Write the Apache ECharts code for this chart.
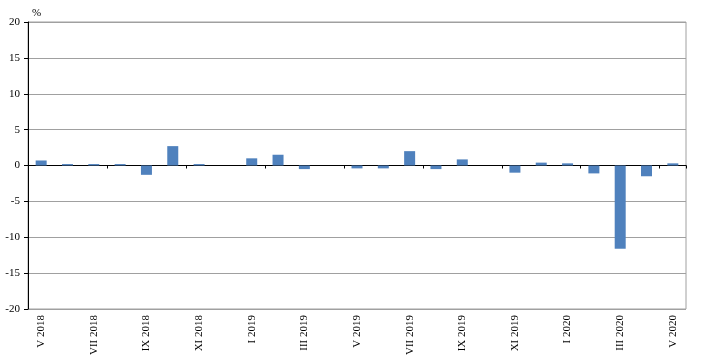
<!DOCTYPE html>
<html>
<head>
<meta charset="utf-8">
<script src="https://cdn.jsdelivr.net/npm/echarts@6/dist/echarts.min.js"></script>
<style>html,body{margin:0;padding:0;background:#fff}#c{width:709px;height:359px}</style>
</head>
<body>
<div id="c"></div>
<script>
const categories = ["V 2018","VI 2018","VII 2018","VIII 2018","IX 2018","X 2018","XI 2018","XII 2018",
  "I 2019","II 2019","III 2019","IV 2019","V 2019","VI 2019","VII 2019","VIII 2019","IX 2019","X 2019","XI 2019","XII 2019",
  "I 2020","II 2020","III 2020","IV 2020","V 2020"];
const values = [0.7,0.2,0.2,0.2,-1.3,2.7,0.2,0.0,
  1.0,1.5,-0.5,0.0,-0.4,-0.4,2.0,-0.5,0.85,0.0,-1.0,0.4,
  0.3,-1.1,-11.6,-1.5,0.3];
const yTicks = {min:-20, max:20, interval:5};
const unitLabel = "%";

const font = "Liberation Serif";
const chart = echarts.init(document.getElementById('c'));
chart.setOption({
  animation:false,
  title:{text:unitLabel,left:27,top:3,textStyle:{fontFamily:font,fontSize:11,fontWeight:'normal',color:'#000'}},
  grid:{left:28,right:23,top:22,bottom:50,show:true,borderColor:'#a0a0a0',borderWidth:1},
  xAxis:[{
    type:'category',data:categories,
    axisLine:{onZero:true,lineStyle:{color:'#000',width:1}},
    axisTick:{show:true,length:3,lineStyle:{color:'#000'}},
    axisLabel:{show:false}
  },{
    type:'category',data:categories,position:'bottom',
    axisLine:{show:false,onZero:false},axisTick:{show:false},
    axisLabel:{interval:1,rotate:90,fontFamily:font,fontSize:11,color:'#000',margin:6}
  }],
  yAxis:{type:'value',min:yTicks.min,max:yTicks.max,interval:yTicks.interval,
    axisLine:{show:true,lineStyle:{color:'#000'}},
    axisTick:{show:true,length:4,lineStyle:{color:'#000'}},
    axisLabel:{fontFamily:font,fontSize:11,color:'#000',margin:8},
    splitLine:{lineStyle:{color:'#a0a0a0',width:1}}
  },
  series:[{type:'bar',data:values,xAxisIndex:0,barWidth:11,itemStyle:{color:'#4f81bd'}}]
});
</script>
</body>
</html>
